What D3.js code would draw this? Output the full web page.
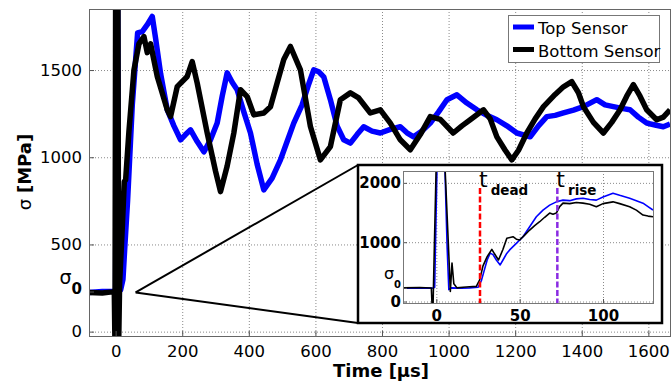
<!DOCTYPE html>
<html>
<head>
<meta charset="utf-8">
<script src="https://cdn.jsdelivr.net/npm/d3@7"></script>
<style>
  body { margin: 0; background: #fff; }
  svg { display: block; font-family: "DejaVu Sans", sans-serif; }
</style>
</head>
<body>
<svg id="chart" width="672" height="382"></svg>
<script>
// [time in us, stress in MPa]
const topSensor = [
  [-80,225],[-40,230],[-5,232],[0,240],[2,1950],[6,1950],[9,300],[15,240],[22,300],[28,500],
  [36,755],[50,1300],[66,1713],[80,1720],[95,1760],[110,1807],[120,1682],[135,1480],[155,1272],
  [175,1180],[195,1100],[210,1130],[225,1157],[245,1090],[265,1031],[285,1100],[305,1196],
  [320,1350],[335,1484],[350,1430],[365,1387],[385,1260],[405,1139],[425,960],[445,813],
  [470,880],[495,985],[515,1090],[535,1196],[560,1300],[580,1420],[595,1501],[610,1490],
  [625,1461],[645,1330],[665,1180],[685,1100],[705,1081],[725,1130],[745,1175],[770,1150],
  [795,1139],[825,1160],[855,1175],[875,1140],[895,1117],[920,1150],[945,1196],[970,1260],
  [995,1330],[1025,1358],[1055,1311],[1085,1272],[1115,1240],[1145,1215],[1175,1180],
  [1205,1139],[1245,1117],[1270,1180],[1295,1233],[1320,1240],[1345,1254],[1375,1270],
  [1405,1290],[1425,1310],[1445,1330],[1470,1300],[1495,1290],[1520,1280],[1545,1272],
  [1570,1230],[1595,1196],[1620,1185],[1645,1175],[1665,1190]
];
const bottomSensor = [
  [-80,225],[-40,222],[-10,228],[-4,230],[-2,-80],[0,1950],[7,1950],[9,-80],[12,280],[20,600],
  [26,860],[30,870],[40,1150],[55,1500],[70,1650],[85,1692],[95,1600],[105,1650],[125,1463],
  [155,1272],[165,1233],[185,1405],[215,1463],[230,1549],[245,1425],[275,1139],[300,920],
  [315,803],[335,950],[355,1139],[375,1387],[395,1348],[415,1243],[445,1254],[465,1290],
  [485,1425],[505,1560],[525,1635],[555,1501],[585,1176],[615,985],[645,1061],[675,1330],
  [705,1369],[730,1340],[765,1254],[795,1272],[825,1196],[855,1100],[885,1043],[915,1130],
  [945,1233],[975,1217],[1014,1139],[1040,1180],[1065,1215],[1105,1272],[1125,1220],
  [1145,1117],[1170,1040],[1190,985],[1210,1040],[1235,1139],[1260,1220],[1285,1290],
  [1320,1360],[1345,1404],[1370,1433],[1390,1370],[1405,1290],[1435,1200],[1465,1139],
  [1490,1200],[1515,1272],[1535,1350],[1555,1416],[1575,1350],[1595,1272],[1625,1215],
  [1645,1230],[1665,1272]
];
const topSensorZoom = [
  [-20,225],[-10,228],[-2,225],[-1,240],[0.5,2400],[5,2400],[6.5,900],[7.5,200],[9,230],
  [15,225],[20,230],[25,240],[27,350],[28.5,500],[30.5,700],[32.3,815],[34,790],[36,700],
  [38.3,617],[40,700],[42,800],[44,870],[48,980],[52,1092],[56,1260],[60,1428],[64,1540],
  [68,1625],[72,1680],[76,1709],[80,1700],[84,1730],[88,1742],[92,1720],[96,1709],[100,1760],
  [106,1826],[110,1790],[116,1742],[120,1700],[124,1658],[127,1600],[130,1541]
];
const bottomSensorZoom = [
  [-20,230],[-10,235],[-3,228],[-2.5,-100],[-2,-100],[0,2400],[5,2400],[7.8,590],[8.4,168],
  [9.4,650],[10.5,300],[12.4,230],[16,240],[20,250],[24,255],[26,365],[28,600],[30.5,757],
  [33.3,880],[35,800],[37.3,700],[40,880],[42.3,1065],[46,1092],[48,1050],[50,1037],[53,1120],
  [56,1205],[59,1280],[62,1345],[65,1420],[68,1490],[70,1470],[72,1490],[74,1600],[76,1658],
  [80,1650],[84,1670],[88,1658],[92,1640],[96,1597],[100,1650],[106,1680],[110,1650],
  [116,1597],[120,1540],[124,1457],[127,1440],[130,1428]
];

const mainXTicks = [0, 200, 400, 600, 800, 1000, 1200, 1400, 1600];
const mainYTicks = [0, 500, 1000, 1500];
const zoomXTicks = [0, 50, 100];
const zoomYTicks = [0, 1000, 2000];
const sigma0 = 230;
const tDead = 26.2;
const tRise = 72.6;
const seriesNames = ['Top Sensor', 'Bottom Sensor'];
const seriesColors = ['#0000ff', '#000000'];

const svg = d3.select('#chart');
const defs = svg.append('defs');

// ---------- main axes ----------
const m = { left: 89, right: 670, top: 9, bottom: 336 };
const x = d3.scaleLinear().domain([-80, 1665]).range([m.left, m.right]);
const y = d3.scaleLinear().domain([-25, 1850]).range([m.bottom, m.top]);

defs.append('clipPath').attr('id', 'clip-main').append('rect')
  .attr('x', m.left).attr('y', m.top)
  .attr('width', m.right - m.left).attr('height', m.bottom - m.top);

const grid = svg.append('g')
  .attr('stroke', '#8a8a8a').attr('stroke-width', 1).attr('stroke-dasharray', '1,2');
grid.selectAll('.gx').data(mainXTicks).join('line')
  .attr('x1', d => x(d) + 0.5).attr('x2', d => x(d) + 0.5)
  .attr('y1', m.top).attr('y2', m.bottom);
grid.selectAll('.gy').data(mainYTicks).join('line')
  .attr('x1', m.left).attr('x2', m.right)
  .attr('y1', d => y(d) + 0.5).attr('y2', d => y(d) + 0.5);

const line = d3.line().x(d => x(d[0])).y(d => y(d[1]));
const plot = svg.append('g').attr('clip-path', 'url(#clip-main)');
[topSensor, bottomSensor].forEach((s, i) => {
  plot.append('path').datum(s)
    .attr('d', line)
    .attr('fill', 'none')
    .attr('stroke', seriesColors[i])
    .attr('stroke-width', 5.5)
    .attr('stroke-linejoin', 'round');
});

function styleAxis(g, size, weight) {
  g.select('.domain').remove();
  g.attr('font-family', null).attr('font-size', size);
  g.selectAll('.tick line').attr('stroke', '#555');
  g.selectAll('.tick text').attr('fill', '#000').attr('font-weight', weight);
}

// sigma_0 tick label: regular sigma, bold subscript zero
function sigmaLabel(axisG, value, sigmaSize, subSize, up, down) {
  axisG.selectAll('.tick').filter(d => d === value).select('text')
    .text(null)
    .call(t => {
      t.append('tspan').text('σ').attr('dy', up)
        .attr('font-size', sigmaSize).attr('font-weight', 'normal');
      t.append('tspan').text('0').attr('dy', down)
        .attr('font-size', subSize).attr('font-weight', 'bold');
    });
}

const plain = d => d === sigma0 ? '' : String(d);

const xAxis = svg.append('g')
  .attr('transform', `translate(0,${m.bottom})`)
  .call(d3.axisBottom(x).tickValues(mainXTicks).tickFormat(plain).tickSize(-5).tickPadding(9));
styleAxis(xAxis, 16.5, 'normal');

const yAxis = svg.append('g')
  .attr('transform', `translate(${m.left},0)`)
  .call(d3.axisLeft(y).tickValues([0, sigma0, 500, 1000, 1500])
    .tickFormat(plain).tickSize(-5).tickPadding(7));
styleAxis(yAxis, 16.5, 'normal');
sigmaLabel(yAxis, sigma0, 19, 15, -8, 9.5);

svg.append('rect')
  .attr('x', m.left + 0.5).attr('y', m.top + 0.5)
  .attr('width', m.right - m.left).attr('height', m.bottom - m.top)
  .attr('fill', 'none').attr('stroke', '#666').attr('stroke-width', 1);

svg.append('text')
  .attr('x', 381).attr('y', 377)
  .attr('text-anchor', 'middle')
  .attr('font-size', 18).attr('font-weight', 'bold')
  .text('Time [μs]');

const yLabel = svg.append('text')
  .attr('transform', 'translate(31,172) rotate(-90)')
  .attr('text-anchor', 'middle')
  .attr('font-size', 18);
yLabel.append('tspan').text('σ ');
yLabel.append('tspan').attr('font-weight', 'bold').text('[MPa]');

// ---------- legend ----------
const legend = svg.append('g');
legend.append('rect')
  .attr('x', 508.5).attr('y', 15.5).attr('width', 151).attr('height', 47)
  .attr('fill', '#fff').attr('stroke', '#777').attr('stroke-width', 1);
seriesNames.forEach((name, i) => {
  const ly = 27 + i * 22.5;
  legend.append('line')
    .attr('x1', 513).attr('x2', 534).attr('y1', ly).attr('y2', ly)
    .attr('stroke', seriesColors[i]).attr('stroke-width', 5);
  legend.append('text')
    .attr('x', 538).attr('y', ly + 7)
    .attr('font-size', 16.5)
    .text(name);
});

// ---------- zoom callout ----------
const box = { left: 358, top: 165, right: 662, bottom: 323 };
const apex = [x(60), y(225)];
svg.append('g').attr('stroke', '#000').attr('stroke-width', 2)
  .selectAll('line').data([box.top, box.bottom]).join('line')
  .attr('x1', apex[0]).attr('y1', apex[1])
  .attr('x2', box.left).attr('y2', d => d);

svg.append('rect')
  .attr('x', box.left).attr('y', box.top)
  .attr('width', box.right - box.left).attr('height', box.bottom - box.top)
  .attr('fill', '#fff').attr('stroke', '#000').attr('stroke-width', 2.5);

// ---------- inset axes ----------
const z = { left: 403, right: 653, top: 171, bottom: 303 };
const zx = d3.scaleLinear().domain([-20, 130]).range([z.left, z.right]);
const zy = d3.scaleLinear().domain([-25, 2200]).range([z.bottom, z.top]);

defs.append('clipPath').attr('id', 'clip-zoom').append('rect')
  .attr('x', z.left).attr('y', z.top)
  .attr('width', z.right - z.left).attr('height', z.bottom - z.top);

const zgrid = svg.append('g')
  .attr('stroke', '#8a8a8a').attr('stroke-width', 1).attr('stroke-dasharray', '1,2');
zgrid.selectAll('.gx').data(zoomXTicks).join('line')
  .attr('x1', d => zx(d) + 0.5).attr('x2', d => zx(d) + 0.5)
  .attr('y1', z.top).attr('y2', z.bottom);
zgrid.selectAll('.gy').data(zoomYTicks).join('line')
  .attr('x1', z.left).attr('x2', z.right)
  .attr('y1', d => zy(d) + 0.5).attr('y2', d => zy(d) + 0.5);

const zline = d3.line().x(d => zx(d[0])).y(d => zy(d[1]));
const zplot = svg.append('g').attr('clip-path', 'url(#clip-zoom)');
[topSensorZoom, bottomSensorZoom].forEach((s, i) => {
  zplot.append('path').datum(s)
    .attr('d', zline)
    .attr('fill', 'none')
    .attr('stroke', seriesColors[i])
    .attr('stroke-width', 1.6)
    .attr('stroke-linejoin', 'round');
});

const markers = [
  { t: tDead, color: '#ff0000', sub: 'dead' },
  { t: tRise, color: '#8a2be2', sub: 'rise' }
];
markers.forEach(mk => {
  svg.append('line')
    .attr('x1', zx(mk.t)).attr('x2', zx(mk.t))
    .attr('y1', 188).attr('y2', z.bottom)
    .attr('stroke', mk.color).attr('stroke-width', 2.5)
    .attr('stroke-dasharray', '6,2.5');
  const lbl = svg.append('text').attr('x', zx(mk.t) - 1).attr('y', 187);
  lbl.append('tspan').attr('font-size', 22).text('t');
  lbl.append('tspan').attr('font-size', 13.5).attr('font-weight', 'bold')
    .attr('dx', 3).attr('dy', 8).text(mk.sub);
});

const zxAxis = svg.append('g')
  .attr('transform', `translate(0,${z.bottom})`)
  .call(d3.axisBottom(zx).tickValues(zoomXTicks).tickFormat(plain).tickSize(-4).tickPadding(7));
styleAxis(zxAxis, 15, 'bold');

const zyAxis = svg.append('g')
  .attr('transform', `translate(${z.left},0)`)
  .call(d3.axisLeft(zy).tickValues([0, sigma0, 1000, 2000])
    .tickFormat(plain).tickSize(-4).tickPadding(2));
styleAxis(zyAxis, 15, 'bold');
sigmaLabel(zyAxis, sigma0, 16, 10, -9, 8.5);

svg.append('rect')
  .attr('x', z.left + 0.5).attr('y', z.top + 0.5)
  .attr('width', z.right - z.left).attr('height', z.bottom - z.top)
  .attr('fill', 'none').attr('stroke', '#777').attr('stroke-width', 1);
</script>
</body>
</html>
